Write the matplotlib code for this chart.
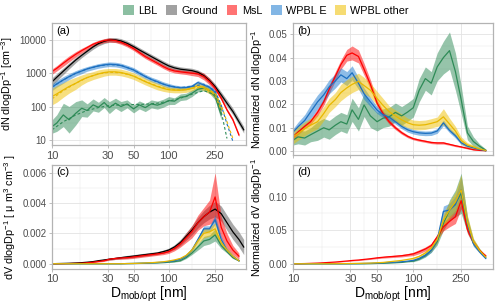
import numpy as np
import matplotlib
matplotlib.use('Agg')
import matplotlib.pyplot as plt
from matplotlib.patches import Patch
from matplotlib.ticker import FixedLocator, NullFormatter

plt.rcParams['font.family'] = ['Liberation Sans', 'DejaVu Sans']
plt.rcParams['mathtext.fontset'] = 'custom'
plt.rcParams['mathtext.rm'] = 'Liberation Sans'
plt.rcParams['mathtext.it'] = 'Liberation Sans:italic'
plt.rcParams['mathtext.default'] = 'regular'

nan = np.nan
groups = ['LBL', 'Ground', 'MsL', 'WPBL E', 'WPBL other']
line_cols = ['#2E8B57', '#000000', '#FF0000', '#1C6FC0', '#E8B800']
fill_cols = ['#2E8B57', '#555555', '#FF0000', '#1C7BD0', '#F0C000']

# particle diameter (nm)
d = [10, 11, 12.5, 14, 16, 18, 20, 22.5, 25, 28, 31, 35, 39, 44, 50, 56, 63, 71, 80, 90,
     100, 112, 126, 141, 158, 178, 200, 224, 250, 282, 316, 355, 400, 440]

# (a) dN/dlogDp [cm-3], spread in log10 units
N_lbl = [25, 32, 56, 40, 63, 89, 76, 112, 95, 132, 93, 126, 100, 120, 85, 112, 93, 120, 110, 126,
         151, 145, 190, 200, 250, 330, 360, 300, 200, 56, nan, nan, nan, nan]
N_lbl_sd = [0.2, 0.25, 0.35, 0.4, 0.35, 0.25, 0.2, 0.18, 0.15, 0.15, 0.18, 0.15, 0.15, 0.12, 0.12, 0.12, 0.12, 0.12, 0.12, 0.12,
            0.12, 0.1, 0.1, 0.1, 0.1, 0.08, 0.08, 0.08, 0.1, 0.15, nan, nan, nan, nan]
N_ground = [550, 760, 1150, 1660, 2510, 3470, 4570, 6170, 7760, 9120, 10000, 10000, 9330, 7940, 6310, 5010, 3980, 3160, 2510, 2000,
            1660, 1450, 1320, 1260, 1200, 1070, 850, 600, 400, 224, 126, 71, 35, 20]
N_ground_sd = [0.12, 0.11, 0.1, 0.09, 0.08, 0.07, 0.07, 0.07, 0.07, 0.07, 0.07, 0.07, 0.07, 0.07, 0.07, 0.07, 0.07, 0.07, 0.07, 0.07,
               0.07, 0.07, 0.07, 0.07, 0.07, 0.07, 0.07, 0.08, 0.08, 0.09, 0.1, 0.1, 0.1, 0.1]
N_msl = [1120, 1410, 2000, 2690, 3720, 4790, 5890, 7410, 8510, 9550, 10000, 9550, 8510, 7080, 5500, 4170, 3160, 2510, 2000, 1580,
         1320, 1170, 1100, 1050, 1000, 955, 795, 560, 355, 178, 79, 40, 14, nan]
N_msl_sd = [0.08, 0.08, 0.09, 0.09, 0.08, 0.07, 0.06, 0.06, 0.06, 0.06, 0.06, 0.06, 0.06, 0.06, 0.06, 0.06, 0.06, 0.06, 0.06, 0.06,
            0.06, 0.06, 0.06, 0.06, 0.07, 0.08, 0.1, 0.1, 0.08, 0.06, 0.05, 0.05, 0.05, nan]
N_wpe = [380, 480, 630, 790, 1000, 1170, 1350, 1510, 1660, 1780, 1860, 1820, 1700, 1480, 1260, 1000, 795, 650, 560, 470,
         420, 385, 365, 370, 400, 525, 440, 380, 265, 80, nan, nan, nan, nan]
N_wpe_sd = [0.1, 0.1, 0.1, 0.09, 0.08, 0.08, 0.07, 0.07, 0.07, 0.07, 0.07, 0.07, 0.07, 0.07, 0.07, 0.07, 0.07, 0.07, 0.07, 0.07,
            0.07, 0.06, 0.06, 0.06, 0.06, 0.06, 0.06, 0.06, 0.07, 0.08, nan, nan, nan, nan]
N_wpo = [200, 240, 316, 400, 500, 630, 740, 850, 955, 1050, 1100, 1100, 1050, 950, 820, 680, 560, 470, 400, 350,
         320, 310, 310, 320, 355, 420, 365, 290, 225, 80, nan, nan, nan, nan]
N_wpo_sd = [0.25, 0.25, 0.22, 0.2, 0.18, 0.15, 0.13, 0.12, 0.12, 0.11, 0.1, 0.1, 0.1, 0.1, 0.1, 0.1, 0.1, 0.1, 0.1, 0.09,
            0.08, 0.08, 0.08, 0.08, 0.08, 0.08, 0.08, 0.08, 0.08, 0.1, nan, nan, nan, nan]

# (a) dashed fits
d_fit = [10, 12.5, 16, 20, 25, 31, 39, 50, 63, 80, 100, 126, 158, 200, 250, 282, 316, 355]
fit_lbl = [20, 35, 56, 76, 93, 107, 112, 115, 117, 126, 145, 178, 234, 300, 224, 71, 11, nan]
fit_wpe = [380, 630, 1000, 1350, 1660, 1820, 1740, 1260, 800, 540, 420, 370, 400, 470, 300, 110, 30, 9]
fit_wpo = [170, 300, 500, 740, 955, 1070, 1030, 830, 570, 410, 330, 310, 350, 390, 250, 110, 35, 11]

# (b) normalized dN/dlogDp
n_lbl = [0.0045, 0.006, 0.0055, 0.0069, 0.0085, 0.0099, 0.009, 0.011, 0.0125, 0.0115, 0.0176, 0.0135, 0.0197, 0.015, 0.0125, 0.014, 0.0146, 0.0165, 0.015, 0.0167,
         0.0185, 0.026, 0.031, 0.029, 0.036, 0.04, 0.043, 0.034, 0.022, 0.0077, 0.004, 0.002, 0.0003, nan]
n_lbl_sd = [0.002, 0.003, 0.003, 0.003, 0.004, 0.004, 0.004, 0.004, 0.004, 0.004, 0.005, 0.005, 0.005, 0.005, 0.004, 0.004, 0.004, 0.004, 0.004, 0.004,
            0.004, 0.005, 0.005, 0.005, 0.006, 0.007, 0.008, 0.008, 0.006, 0.003, 0.002, 0.001, 0.0005, nan]
n_msl = [0.006, 0.008, 0.0105, 0.0125, 0.0165, 0.021, 0.0265, 0.032, 0.037, 0.041, 0.042, 0.0405, 0.035, 0.0285, 0.0205, 0.016, 0.0125, 0.0099, 0.0078, 0.0062,
         0.0052, 0.0046, 0.0041, 0.0036, 0.0034, 0.0034, 0.0028, 0.0022, 0.0017, 0.0011, 0.0005, 0.0002, 0.0001, nan]
n_msl_sd = [0.001, 0.001, 0.001, 0.0012, 0.0015, 0.0015, 0.0018, 0.002, 0.002, 0.0025, 0.003, 0.0028, 0.0025, 0.002, 0.0015, 0.0012, 0.001, 0.0008, 0.0007, 0.0006,
            0.0005, 0.0005, 0.0005, 0.0005, 0.0005, 0.0005, 0.0004, 0.0004, 0.0003, 0.0003, 0.0002, 0.0001, 0.0001, nan]
n_wpe = [0.008, 0.0103, 0.013, 0.0167, 0.021, 0.024, 0.0275, 0.03, 0.0326, 0.031, 0.0335, 0.029, 0.0245, 0.021, 0.0175, 0.0155, 0.0145, 0.0125, 0.0105, 0.009,
         0.0082, 0.0077, 0.0075, 0.0076, 0.0085, 0.012, 0.0088, 0.0065, 0.0035, 0.002, 0.0013, 0.0006, 0.0001, nan]
n_wpe_sd = [0.0015, 0.002, 0.0025, 0.003, 0.003, 0.003, 0.003, 0.003, 0.003, 0.003, 0.003, 0.0025, 0.0025, 0.002, 0.0015, 0.0012, 0.0012, 0.001, 0.001, 0.001,
            0.001, 0.001, 0.001, 0.001, 0.001, 0.0012, 0.001, 0.001, 0.0008, 0.0006, 0.0005, 0.0003, 0.0001, nan]
n_wpo = [0.006, 0.0075, 0.0095, 0.011, 0.0125, 0.016, 0.0195, 0.022, 0.025, 0.027, 0.0285, 0.0298, 0.028, 0.026, 0.0225, 0.0195, 0.0168, 0.015, 0.0133, 0.012,
         0.0112, 0.011, 0.0112, 0.0118, 0.0125, 0.0146, 0.0115, 0.0085, 0.0045, 0.0025, 0.0017, 0.0008, 0.0002, nan]
n_wpo_sd = [0.003, 0.003, 0.003, 0.003, 0.003, 0.003, 0.003, 0.003, 0.0035, 0.0035, 0.0035, 0.0035, 0.0035, 0.003, 0.003, 0.003, 0.0025, 0.0025, 0.0025, 0.002,
            0.002, 0.002, 0.002, 0.002, 0.002, 0.0035, 0.0025, 0.002, 0.0015, 0.001, 0.0008, 0.0005, 0.0002, nan]

# (c) dV/dlogDp [um3 cm-3]
v_lbl = [0, 0, 0, 0, 0, 0, 0, 0, 0, 0, 0, 0, 0, 0.00001, 0.00001, 0.00002, 0.00003, 0.00004, 0.00005, 0.00007,
         0.0001, 0.00014, 0.0002, 0.0004, 0.0007, 0.0011, 0.0015, 0.0016, 0.0019, 0.0012, 0.0008, 0.0004, 0.0002, nan]
v_lbl_sd = [0, 0, 0, 0, 0, 0, 0, 0, 0, 0, 0, 0, 0, 0, 0, 0, 0, 0, 0, 0,
            0.00002, 0.00003, 0.00004, 0.00006, 0.0001, 0.0002, 0.0003, 0.0003, 0.0004, 0.0002, 0.0001, 0.00006, 0.00003, nan]
v_ground = [0, 0.00001, 0.00002, 0.00003, 0.00005, 0.00007, 0.0001, 0.00014, 0.0002, 0.00025, 0.0003, 0.00035, 0.0004, 0.00045, 0.0005, 0.00055, 0.0006, 0.00065, 0.0007, 0.0008,
            0.0009, 0.0011, 0.0014, 0.0018, 0.0022, 0.0027, 0.0031, 0.0034, 0.0036, 0.0033, 0.0027, 0.0021, 0.0016, 0.0011]
v_ground_sd = [0, 0, 0, 0, 0, 0.00001, 0.00002, 0.00003, 0.00004, 0.00005, 0.00006, 0.00007, 0.00008, 0.0001, 0.0001, 0.0001, 0.0001, 0.0001, 0.0001, 0.0001,
               0.00012, 0.00015, 0.0002, 0.00025, 0.0003, 0.00035, 0.0004, 0.00045, 0.0005, 0.0005, 0.0005, 0.0005, 0.0005, 0.0005]
v_msl = [0, 0, 0, 0.00001, 0.00002, 0.00003, 0.00006, 0.0001, 0.00015, 0.0002, 0.0003, 0.00035, 0.00038, 0.0004, 0.00045, 0.0005, 0.00055, 0.0006, 0.00065, 0.0007,
         0.0008, 0.001, 0.0013, 0.0017, 0.0021, 0.0027, 0.0031, 0.0034, 0.0044, 0.0024, 0.0015, 0.0009, 0.0005, nan]
v_msl_sd = [0, 0, 0, 0, 0, 0.00001, 0.00002, 0.00003, 0.00004, 0.00005, 0.00006, 0.00007, 0.00008, 0.00009, 0.0001, 0.0001, 0.0001, 0.0001, 0.0001, 0.0001,
            0.00012, 0.00015, 0.0002, 0.0003, 0.0004, 0.0005, 0.0006, 0.0008, 0.0016, 0.0007, 0.0005, 0.0003, 0.0002, nan]
v_wpe = [0, 0, 0, 0, 0, 0, 0, 0, 0, 0, 0, 0, 0, 0.00001, 0.00002, 0.00003, 0.00004, 0.00006, 0.00008, 0.0001,
         0.00015, 0.0002, 0.0003, 0.0005, 0.0009, 0.0016, 0.0023, 0.0023, 0.0029, 0.0016, 0.0009, 0.0005, 0.0002, nan]
v_wpe_sd = [0, 0, 0, 0, 0, 0, 0, 0, 0, 0, 0, 0, 0, 0, 0, 0, 0, 0, 0, 0,
            0.00002, 0.00003, 0.00004, 0.00006, 0.0001, 0.00015, 0.0002, 0.0002, 0.0003, 0.0002, 0.00012, 0.00008, 0.00004, nan]
v_wpo = [0, 0, 0, 0, 0, 0, 0, 0, 0, 0, 0, 0, 0, 0.00001, 0.00002, 0.00003, 0.00005, 0.00007, 0.0001, 0.00013,
         0.00018, 0.00025, 0.00035, 0.00055, 0.0009, 0.0015, 0.002, 0.0021, 0.0023, 0.0014, 0.0009, 0.0005, 0.0002, nan]
v_wpo_sd = [0, 0, 0, 0, 0, 0, 0, 0, 0, 0, 0, 0, 0, 0, 0, 0, 0, 0, 0, 0,
            0.00003, 0.00004, 0.00006, 0.00008, 0.00012, 0.0002, 0.0003, 0.0003, 0.0004, 0.0002, 0.00012, 0.00008, 0.00004, nan]

# (d) normalized dV/dlogDp
nv_lbl = [0, 0, 0, 0, 0, 0, 0, 0, 0, 0, 0, 0, 0, 0.0002, 0.0005, 0.0007, 0.001, 0.0015, 0.002, 0.003,
          0.004, 0.007, 0.012, 0.02, 0.033, 0.06, 0.08, 0.09, 0.105, 0.058, 0.032, 0.02, 0.01, nan]
nv_lbl_sd = [0, 0, 0, 0, 0, 0, 0, 0, 0, 0, 0, 0, 0, 0, 0, 0, 0, 0, 0, 0,
             0.001, 0.0015, 0.002, 0.003, 0.005, 0.01, 0.015, 0.02, 0.03, 0.012, 0.005, 0.003, 0.001, nan]
nv_msl = [0, 0.0001, 0.0003, 0.0006, 0.001, 0.0015, 0.002, 0.0026, 0.0033, 0.0041, 0.0049, 0.0056, 0.0065, 0.0075, 0.0088, 0.0097, 0.0105, 0.0112, 0.012, 0.0133,
          0.0147, 0.018, 0.022, 0.027, 0.04, 0.055, 0.063, 0.07, 0.094, 0.051, 0.032, 0.02, 0.012, nan]
nv_msl_sd = [0, 0, 0, 0, 0.0001, 0.0002, 0.0003, 0.0004, 0.0005, 0.0006, 0.0007, 0.0008, 0.0009, 0.001, 0.0012, 0.0013, 0.0015, 0.0016, 0.0018, 0.002,
             0.0025, 0.003, 0.003, 0.0035, 0.004, 0.006, 0.008, 0.01, 0.012, 0.006, 0.003, 0.002, 0.001, nan]
nv_wpe = [0, 0, 0, 0, 0, 0, 0, 0, 0, 0.0001, 0.0002, 0.0003, 0.0005, 0.0007, 0.001, 0.0015, 0.002, 0.0025, 0.003, 0.004,
          0.005, 0.008, 0.013, 0.02, 0.035, 0.078, 0.08, 0.088, 0.11, 0.06, 0.03, 0.018, 0.008, nan]
nv_wpe_sd = [0, 0, 0, 0, 0, 0, 0, 0, 0, 0, 0, 0, 0, 0, 0, 0, 0, 0, 0, 0,
             0.001, 0.0015, 0.002, 0.003, 0.004, 0.008, 0.01, 0.012, 0.02, 0.008, 0.004, 0.002, 0.001, nan]
nv_wpo = [0, 0, 0, 0, 0, 0, 0, 0.0001, 0.0002, 0.0003, 0.0004, 0.0006, 0.0008, 0.001, 0.0015, 0.002, 0.003, 0.004, 0.005, 0.0065,
          0.008, 0.011, 0.016, 0.023, 0.036, 0.065, 0.08, 0.092, 0.11, 0.062, 0.033, 0.02, 0.01, nan]
nv_wpo_sd = [0, 0, 0, 0, 0, 0, 0, 0, 0, 0, 0, 0, 0, 0, 0, 0, 0, 0, 0, 0,
             0.0015, 0.002, 0.003, 0.004, 0.005, 0.01, 0.012, 0.015, 0.022, 0.01, 0.005, 0.003, 0.001, nan]

x = np.array(d)
border = '#b3b3b3'
gridc = '#e3e3e3'


def style(ax, xlabels=True):
    ax.set_xscale('log')
    ax.set_xlim(10, 460)
    ax.xaxis.set_major_locator(FixedLocator([10, 30, 50, 100, 250]))
    ax.xaxis.set_minor_locator(FixedLocator([17.3, 38.7, 70.7, 158]))
    ax.xaxis.set_minor_formatter(NullFormatter())
    if xlabels:
        ax.set_xticklabels(['10', '30', '50', '100', '250'])
    else:
        ax.set_xticklabels([])
    ax.grid(True, which='major', color=gridc, lw=0.6)
    ax.grid(True, which='minor', color=gridc, lw=0.3)
    ax.set_axisbelow(True)
    for s in ax.spines.values():
        s.set_color(border)
        s.set_linewidth(0.9)
    ax.tick_params(which='major', length=2.5, width=0.6, color=border, pad=1.5)
    ax.tick_params(which='minor', length=0)
    ax.tick_params(axis='x', labelsize=8, labelcolor='#4d4d4d')
    ax.tick_params(axis='y', labelsize=7, labelcolor='#4d4d4d')


def draw(ax, series, log=False):
    for i, (y, sd) in enumerate(series):
        if y is None:
            continue
        y = np.array(y, dtype=float)
        sd = np.array(sd, dtype=float)
        if log:
            lo, hi = y / 10 ** sd, y * 10 ** sd
        else:
            lo, hi = y - sd, y + sd
        ax.fill_between(x, lo, hi, color=fill_cols[i], alpha=0.5, lw=0)
        ax.plot(x, y, color=line_cols[i], lw=0.9)


fig = plt.figure(figsize=(5, 3.04), dpi=100)
ax_a = fig.add_axes([0.104, 0.523, 0.388, 0.401])
ax_b = fig.add_axes([0.586, 0.49, 0.4, 0.434])
ax_c = fig.add_axes([0.104, 0.116, 0.388, 0.341])
ax_d = fig.add_axes([0.586, 0.116, 0.4, 0.341])

# (a)
draw(ax_a, [(N_lbl, N_lbl_sd), (N_ground, N_ground_sd), (N_msl, N_msl_sd),
            (N_wpe, N_wpe_sd), (N_wpo, N_wpo_sd)], log=True)
ax_a.plot(d_fit, fit_lbl, color=line_cols[0], lw=0.8, ls=(0, (2.5, 2)))
ax_a.plot(d_fit, fit_wpe, color=line_cols[3], lw=0.8, ls=(0, (2.5, 2)))
ax_a.plot(d_fit, fit_wpo, color=line_cols[4], lw=0.8, ls=(0, (2.5, 2)))
ax_a.set_yscale('log')
style(ax_a)
ax_a.set_ylim(7, 32000)
ax_a.yaxis.set_major_locator(FixedLocator([10, 100, 1000, 10000]))
ax_a.yaxis.set_minor_locator(FixedLocator([31.6, 316, 3162, 31623]))
ax_a.yaxis.set_minor_formatter(NullFormatter())
ax_a.set_yticklabels(['10', '100', '1000', '10000'])
ax_a.tick_params(which='minor', length=0)
ax_a.set_ylabel('dN dlogDp$^{-1}$ [cm$^{-3}$]', fontsize=7.8, labelpad=3)

# (b)
draw(ax_b, [(n_lbl, n_lbl_sd), (None, None), (n_msl, n_msl_sd),
            (n_wpe, n_wpe_sd), (n_wpo, n_wpo_sd)])
style(ax_b, xlabels=False)
ax_b.set_ylim(-0.0018, 0.0548)
ax_b.yaxis.set_major_locator(FixedLocator([0, 0.01, 0.02, 0.03, 0.04, 0.05]))
ax_b.yaxis.set_minor_locator(FixedLocator([0.005, 0.015, 0.025, 0.035, 0.045]))
ax_b.set_yticklabels(['0.00', '0.01', '0.02', '0.03', '0.04', '0.05'])
ax_b.tick_params(which='minor', length=0)
ax_b.set_ylabel('Normalized dN dlogDp$^{-1}$', fontsize=7.8, labelpad=3)

# (c)
draw(ax_c, [(v_lbl, v_lbl_sd), (v_ground, v_ground_sd), (v_msl, v_msl_sd),
            (v_wpe, v_wpe_sd), (v_wpo, v_wpo_sd)])
style(ax_c)
ax_c.set_ylim(-0.00033, 0.0065)
ax_c.yaxis.set_major_locator(FixedLocator([0, 0.002, 0.004, 0.006]))
ax_c.yaxis.set_minor_locator(FixedLocator([0.001, 0.003, 0.005]))
ax_c.set_yticklabels(['0.000', '0.002', '0.004', '0.006'])
ax_c.tick_params(which='minor', length=0)
ax_c.set_ylabel('dV dlogDp$^{-1}$ [ μ m$^{3}$ cm$^{-3}$ ]', fontsize=7.8, labelpad=3)
ax_c.set_xlabel('D$_{mob/opt}$ [nm]', fontsize=10, labelpad=0)

# (d)
draw(ax_d, [(nv_lbl, nv_lbl_sd), (None, None), (nv_msl, nv_msl_sd),
            (nv_wpe, nv_wpe_sd), (nv_wpo, nv_wpo_sd)])
style(ax_d)
ax_d.set_ylim(-0.0074, 0.147)
ax_d.yaxis.set_major_locator(FixedLocator([0, 0.05, 0.10]))
ax_d.yaxis.set_minor_locator(FixedLocator([0.025, 0.075, 0.125]))
ax_d.set_yticklabels(['0.00', '0.05', '0.10'])
ax_d.tick_params(which='minor', length=0)
ax_d.set_ylabel('Normalized dV dlogDp$^{-1}$', fontsize=7.8, labelpad=3)
ax_d.set_xlabel('D$_{mob/opt}$ [nm]', fontsize=10, labelpad=0)

for ax, lab in zip([ax_a, ax_b, ax_c, ax_d], ['(a)', '(b)', '(c)', '(d)']):
    ax.text(0.02, 0.98, lab, transform=ax.transAxes, ha='left', va='top', fontsize=8)

handles = [Patch(facecolor=c, alpha=0.55, edgecolor='none') for c in fill_cols]
fig.legend(handles, groups, loc='center', bbox_to_anchor=(0.532, 0.965), ncol=5,
           frameon=False, fontsize=7.8, handlelength=1.0, handleheight=1.0,
           handletextpad=0.4, columnspacing=0.8, borderaxespad=0)

fig.savefig('out.png', dpi=100)
